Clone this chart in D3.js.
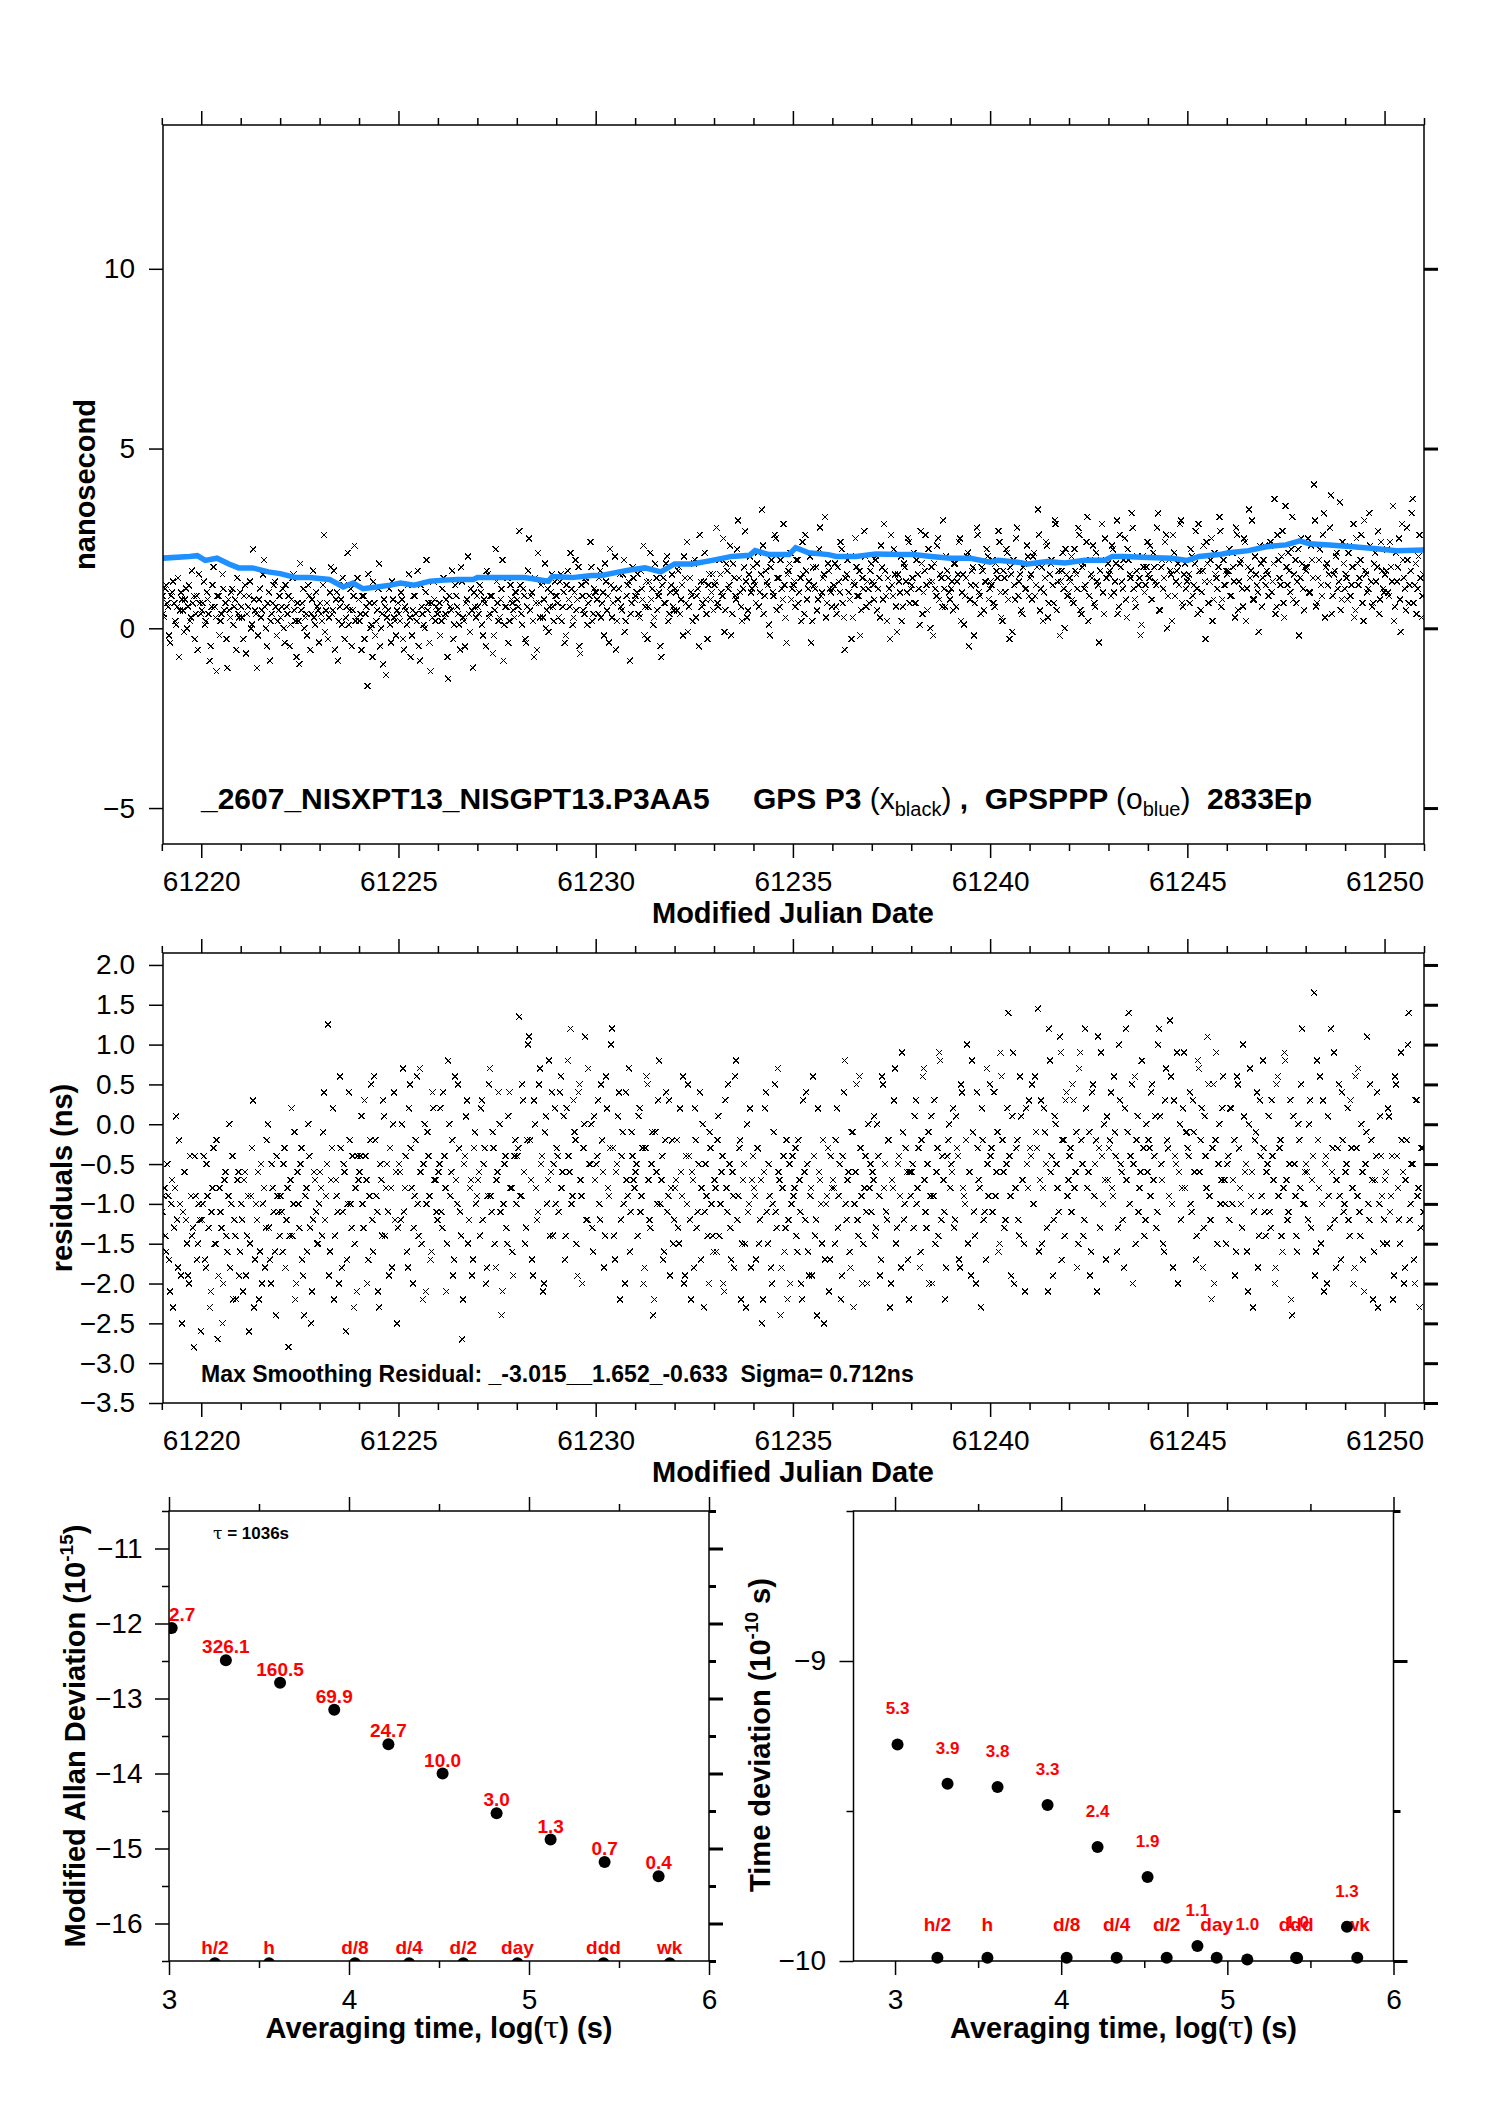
<!DOCTYPE html>
<meta charset="utf-8">
<style>
body { margin: 0; background: #fff; }
svg { font-family: "Liberation Sans", Arial, Helvetica, sans-serif; }
.ax text { font-size: 28px; font-family: "Liberation Sans", Arial, sans-serif; fill: #000; }
.ax line { stroke: #000; stroke-width: 1.5px; }
.axr line { stroke: #000; stroke-width: 3px; }
.frame { fill: none; stroke: #000; stroke-width: 1.5px; }
.title { font-size: 29px; font-weight: bold; }
.note { white-space: pre; }
.red { fill: #f00; font-weight: bold; }
.xm { fill: none; stroke: #000; stroke-width: 1.1px; shape-rendering: crispEdges; }
</style>
<svg width="1488" height="2105"></svg>
<script src="https://cdn.jsdelivr.net/npm/d3@7"></script>
<script>

// ---- time series: GPS P3 (black x), readings per MJD day (two interleaved passes) ----
var p3Start = 61219;
var p3ByDay = [
  [0.9,0.3,1.2,0.6,-0.4,1.0,0.7,0.1,1.4,0.5,0.8,-0.1,1.1,0.6,0.2,1.6,0.9,0.4,-0.6,0.7],
  [0.5,1.3,0.2,0.8,-0.9,0.6,1.7,0.3,0.9,-0.2,0.4,1.1,0.7,-1.1,0.5,1.0,0.1,0.8,1.4,0.3],
  [0.6,-0.3,1.2,0.4,0.9,0.0,2.2,0.5,-1.1,0.8,0.3,1.5,0.6,-0.5,1.0,0.2,0.7,1.3,-0.2,0.5],
  [0.3,1.1,-0.4,0.6,0.9,0.1,1.4,0.5,-0.8,0.2,1.8,0.7,0.0,0.4,1.2,-0.6,0.8,0.3,1.0,0.5],
  [0.7,0.2,2.6,0.5,-0.3,1.0,0.4,1.6,0.8,-0.9,0.6,0.1,1.2,0.3,2.1,0.5,-0.5,0.9,0.2,1.4],
  [0.2,-0.6,0.9,0.4,-1.6,0.7,0.1,1.3,-0.2,0.5,1.8,0.0,-1.0,0.6,0.3,1.1,-0.4,0.8,0.2,0.5],
  [0.4,1.0,-0.3,0.6,0.1,1.5,-0.8,0.5,0.9,0.2,-0.5,1.2,0.4,0.0,1.9,0.7,-1.2,0.3,0.8,0.6],
  [0.5,-0.2,1.1,0.3,0.8,-1.4,0.6,1.6,0.1,0.9,0.4,-0.6,1.3,0.2,0.7,2.0,-0.1,0.5,1.0,0.3],
  [0.6,1.2,0.1,0.8,-0.5,1.5,0.4,0.9,-0.2,2.2,0.7,0.3,1.1,-0.9,0.6,1.4,0.2,0.8,0.5,1.0],
  [0.8,2.7,0.4,1.1,-0.3,0.6,2.5,0.9,0.2,1.4,-0.6,0.7,1.2,0.3,1.8,0.5,-0.1,1.0,0.6,1.3],
  [0.9,0.3,1.5,0.6,-0.4,1.2,0.8,2.1,0.1,1.0,0.5,1.7,-0.7,0.9,0.4,1.3,0.7,2.4,0.2,1.1],
  [1.0,0.4,1.6,0.7,-0.2,1.3,0.9,2.2,0.3,1.1,-0.6,0.8,1.5,0.5,1.9,0.2,1.2,-0.9,0.7,1.4],
  [0.9,1.5,0.3,1.1,2.3,0.6,-0.3,1.3,0.8,0.1,1.8,0.5,1.0,-0.8,1.4,0.7,2.0,0.4,1.2,0.6],
  [1.1,0.5,1.7,0.8,-0.2,1.4,2.4,0.6,1.0,0.2,1.9,0.9,-0.5,1.3,0.7,2.1,0.4,1.2,0.8,1.5],
  [1.2,2.8,0.6,1.5,0.9,-0.1,1.8,1.1,2.3,0.4,1.4,0.8,3.0,1.0,0.2,1.7,1.3,0.5,2.0,1.1],
  [1.3,0.7,2.1,1.0,3.3,0.4,1.6,1.2,-0.2,1.9,0.9,2.5,1.4,0.6,1.1,2.9,0.3,1.5,1.8,0.8],
  [1.2,0.6,1.9,1.0,0.2,1.5,2.6,0.8,1.3,-0.4,1.7,1.1,0.5,2.2,0.9,1.4,3.1,0.7,1.6,1.0],
  [1.1,1.8,0.4,1.3,2.4,0.7,-0.6,1.5,1.0,2.0,0.3,1.2,1.7,0.9,-0.2,1.4,2.7,0.6,1.1,1.6],
  [1.3,0.8,2.0,1.1,0.3,1.7,2.9,0.9,1.4,-0.3,1.2,2.2,0.6,1.5,1.0,0.2,1.8,1.3,2.5,0.7],
  [1.2,2.1,0.7,1.5,0.1,1.8,1.0,2.6,0.5,1.3,1.7,-0.2,1.1,2.3,0.8,1.4,3.0,0.6,1.6,1.0],
  [1.1,0.5,1.8,1.3,2.4,0.2,1.5,0.9,2.0,-0.5,1.2,1.7,0.7,2.8,1.0,0.4,1.6,1.3,2.2,0.8],
  [1.3,1.9,0.6,1.6,2.7,1.0,0.2,1.4,2.2,0.8,1.7,-0.1,1.2,2.5,0.9,1.5,0.4,1.8,1.1,2.0],
  [1.4,0.8,2.1,1.2,3.3,0.5,1.7,1.0,2.4,0.3,1.5,1.9,0.7,2.9,1.3,-0.2,1.6,1.1,2.2,0.9],
  [1.4,2.0,0.7,1.6,1.1,2.6,0.4,1.8,1.2,3.1,0.9,1.5,2.3,0.6,1.3,-0.4,1.9,1.0,2.5,1.4],
  [1.5,0.9,2.2,1.3,3.0,0.6,1.7,1.1,2.5,0.3,1.9,1.4,2.8,0.8,1.6,1.2,-0.2,2.0,1.0,1.7],
  [1.5,2.3,0.8,1.7,1.2,3.2,0.5,1.9,1.4,2.6,0.9,1.6,0.2,2.1,1.3,1.8,2.9,0.7,1.5,1.1],
  [1.4,0.7,2.0,1.2,2.7,0.4,1.6,1.0,2.3,-0.3,1.8,1.3,2.5,0.8,1.5,1.1,3.1,0.6,1.9,1.2],
  [1.5,2.2,0.9,1.7,0.3,2.6,1.3,1.9,0.6,2.4,1.1,3.3,1.6,0.8,2.0,1.2,-0.1,1.8,1.4,2.3],
  [1.6,0.9,2.4,1.3,3.6,0.6,1.9,1.2,2.7,0.3,1.7,2.1,1.0,3.1,1.5,0.7,2.2,1.4,1.8,0.5],
  [1.6,2.5,1.0,1.9,4.0,0.6,1.4,2.2,0.9,3.2,1.7,1.2,2.8,0.4,1.5,2.0,1.1,3.5,0.8,1.8],
  [1.5,0.8,2.3,1.2,2.9,0.5,1.8,1.4,2.6,0.2,1.6,1.0,3.2,1.3,0.7,2.1,1.7,0.4,2.4,1.1],
  [1.5,2.2,0.9,1.7,3.4,0.6,1.3,2.5,-0.1,1.9,1.1,2.8,0.7,1.6,3.6,1.2,0.4,2.0,1.4,0.9]
];
var p3ByDay2 = [
  [0.4,1.1,0.7,-0.2,0.9,1.3,0.2,0.6,-0.8,1.0,0.5,0.8,0.0,1.2,0.3,0.7,-0.3,0.9,1.5,0.4],
  [0.7,0.1,1.0,0.4,-0.5,1.2,0.6,-1.2,0.9,0.2,1.5,0.5,-0.3,0.8,0.3,1.1,0.6,-0.6,0.4,1.0],
  [0.3,0.9,-0.7,0.6,1.3,0.1,0.8,0.4,-0.2,1.1,0.5,1.9,0.0,0.7,-0.9,0.4,1.2,0.6,0.2,0.9],
  [0.6,0.0,1.2,0.4,-0.5,0.8,1.5,0.2,0.7,-1.0,0.5,1.1,0.3,-0.2,0.9,0.4,1.6,0.1,0.6,-0.4],
  [0.4,1.2,-0.1,0.7,0.3,1.7,0.5,-0.6,1.0,0.2,0.8,1.4,-0.3,0.6,0.1,1.1,0.5,2.3,0.3,0.8],
  [0.4,0.9,-0.3,0.6,1.5,0.0,-0.8,0.7,0.2,1.1,-0.5,0.4,0.8,-1.3,0.5,0.1,1.3,0.3,-0.2,0.7],
  [0.2,0.8,-0.6,0.5,1.2,0.3,-0.2,0.9,0.4,1.6,-0.9,0.6,0.1,1.0,0.5,-0.4,0.7,1.3,0.2,0.4],
  [0.7,0.2,1.4,0.4,-0.8,0.9,0.5,-0.3,1.2,0.6,0.1,1.7,0.3,-0.5,0.8,0.4,1.1,-1.1,0.6,0.9],
  [0.4,1.0,-0.2,0.7,1.6,0.3,0.9,-0.7,0.5,1.3,0.2,0.8,1.9,0.1,0.6,-0.4,1.2,0.7,0.3,1.0],
  [0.6,1.2,0.1,0.9,-0.4,1.6,0.5,1.0,-0.8,0.7,2.1,0.3,1.3,0.8,0.0,1.1,0.6,1.5,0.2,0.9],
  [0.7,1.3,0.2,1.0,-0.2,1.6,0.6,1.1,0.3,1.9,0.8,-0.5,1.2,0.5,1.4,0.1,0.9,1.7,0.4,1.0],
  [0.8,1.4,0.3,1.0,1.8,0.5,-0.4,1.2,0.7,2.0,0.2,1.1,0.6,1.5,-0.1,0.9,1.3,0.4,1.7,0.8],
  [1.0,0.4,1.6,0.8,-0.2,1.3,0.6,2.1,1.1,0.3,1.4,0.9,-0.5,1.2,0.7,1.8,0.2,1.0,1.5,0.5],
  [1.0,1.6,0.4,1.2,2.0,0.7,-0.1,1.4,0.9,1.8,0.3,1.1,2.6,0.6,1.3,0.8,-0.3,1.5,1.0,0.5],
  [1.3,0.7,1.9,1.0,2.5,0.5,1.6,1.2,-0.2,1.8,0.9,2.2,1.4,0.6,1.1,2.7,0.3,1.5,1.0,1.7],
  [1.2,1.8,0.6,1.5,2.3,0.9,1.3,0.1,1.7,1.0,2.6,0.5,1.4,1.9,0.8,1.2,-0.4,1.6,2.1,1.1],
  [1.3,1.9,0.7,1.4,2.4,0.4,1.6,1.1,2.0,0.2,1.2,1.7,0.8,2.8,1.0,1.5,0.3,1.8,1.1,0.6],
  [1.2,0.6,1.7,1.0,2.2,0.3,1.4,1.9,0.8,-0.3,1.3,2.5,0.9,1.6,0.5,1.1,2.0,1.3,0.7,1.8],
  [1.2,1.9,0.5,1.4,2.3,0.8,1.6,0.2,1.1,2.6,0.9,1.5,-0.1,1.3,2.0,0.6,1.7,1.0,2.4,1.1],
  [1.4,0.7,1.9,1.1,2.7,0.4,1.6,1.2,2.2,0.0,1.3,1.8,0.9,2.5,1.5,0.6,1.1,2.0,1.4,0.8],
  [1.3,1.8,0.6,1.5,2.5,1.0,0.1,1.4,2.1,0.8,1.6,-0.2,1.2,2.6,0.9,1.7,0.5,1.3,2.0,1.1],
  [1.2,0.7,1.8,1.4,2.4,0.3,1.6,1.0,2.1,-0.3,1.5,1.9,0.8,2.8,1.3,0.5,1.7,1.1,2.3,0.9],
  [1.5,2.0,0.9,1.7,2.6,1.1,0.2,1.4,2.3,0.7,1.8,1.2,3.0,0.5,1.6,1.3,2.1,0.0,1.5,1.0],
  [1.3,0.8,2.2,1.5,2.8,0.5,1.7,1.1,2.4,0.2,1.9,1.4,0.7,2.1,1.2,1.6,2.9,0.4,1.4,1.8],
  [1.6,2.3,1.0,1.8,0.4,2.6,1.3,1.9,0.8,2.2,1.5,3.2,1.1,0.6,2.0,1.4,0.1,1.7,1.2,2.4],
  [1.4,0.8,2.1,1.3,2.8,0.5,1.7,1.1,2.4,0.0,1.9,1.5,2.6,0.9,1.6,1.2,3.0,0.6,1.8,1.3],
  [1.5,2.2,0.9,1.8,1.1,2.9,0.5,1.6,1.3,2.4,0.7,1.9,0.2,2.1,1.4,1.7,2.7,0.8,1.2,1.6],
  [1.6,0.9,2.1,1.3,2.8,0.5,1.8,1.1,2.5,0.2,1.7,1.4,3.0,0.8,1.5,1.0,2.3,0.6,1.9,1.2],
  [1.5,2.3,1.0,1.8,0.4,2.6,1.4,2.0,0.7,3.4,1.2,1.6,2.2,0.8,1.9,1.3,-0.2,2.5,1.1,1.7],
  [1.7,1.0,2.3,1.4,3.0,0.7,1.9,1.2,2.6,0.3,1.8,1.5,3.7,0.9,1.6,2.1,1.3,0.5,2.4,1.1],
  [1.4,2.1,0.9,1.7,0.3,2.5,1.2,1.9,0.7,3.0,1.5,1.1,2.3,0.6,1.8,1.3,2.7,0.8,1.6,1.0],
  [1.6,1.0,2.4,1.3,0.2,2.1,1.7,0.8,2.9,1.4,0.5,1.9,1.2,3.2,0.7,1.8,1.1,2.6,0.3,1.5]
];

// ---- smoothed GPSPPP (blue) ----
var pppMjd = [61219.0,61219.7,61219.9,61220.1,61220.4,61220.7,61220.95,61221.3,61221.7,61222.0,
  61222.4,61222.75,61223.25,61223.6,61223.85,61224.1,61224.45,61224.8,61225.05,61225.4,
  61225.8,61226.15,61226.5,61226.9,61227.0,61227.6,61228.2,61228.8,61228.9,61229.4,
  61229.9,61230.15,61230.6,61230.9,61231.25,61231.65,61232.0,61232.45,61232.95,61233.45,
  61233.9,61234.04,61234.4,61234.9,61235.07,61235.4,61235.9,61236.1,61236.6,61237.1,
  61237.7,61238.05,61238.5,61239.0,61239.5,61240.0,61240.2,61240.7,61240.95,61241.45,
  61241.9,61242.4,61242.9,61243.1,61243.4,61244.0,61244.6,61245.0,61245.3,61245.8,
  61246.05,61246.55,61247.0,61247.5,61247.85,61248.1,61248.6,61249.2,61249.8,61250.3,61251.0];
var pppNs = [1.95,2.0,2.02,1.89,1.95,1.79,1.68,1.68,1.57,1.52,
  1.41,1.41,1.36,1.15,1.26,1.1,1.15,1.2,1.26,1.2,
  1.31,1.34,1.36,1.36,1.41,1.41,1.41,1.31,1.44,1.41,
  1.47,1.47,1.57,1.63,1.68,1.57,1.79,1.79,1.89,2.0,
  2.03,2.16,2.05,2.05,2.24,2.1,2.05,2.0,2.0,2.07,
  2.05,2.05,2.0,1.95,1.95,1.84,1.89,1.84,1.79,1.86,
  1.82,1.89,1.89,2.0,2.0,1.97,1.95,1.89,2.0,2.05,
  2.1,2.16,2.27,2.32,2.43,2.35,2.32,2.27,2.21,2.16,2.18];

// ---- smoothing residuals (ns), per MJD day (two interleaved passes) ----
var residByDay = [
  [-1.1,-0.8,-1.6,-0.9,-2.1,-0.7,-1.3,0.1,-1.8,-1.0,-2.5,-0.6,-1.2,-1.9,-0.4,-1.4,-2.8,-0.9,-1.5,-1.2],
  [-1.2,-0.4,-1.8,-0.9,-2.3,-1.1,-0.3,-1.5,-2.7,-0.8,-1.3,-2.0,-0.6,-1.6,0.0,-1.0,-2.2,-1.4,-0.7,-1.9],
  [-1.0,-2.1,-0.6,-1.4,-2.6,-0.9,0.3,-1.7,-1.2,-2.2,-0.5,-1.0,-1.8,-0.2,-1.3,-2.0,-0.8,-1.6,-0.4,-1.1],
  [-0.9,-1.6,-0.3,-1.2,-2.8,-0.7,-1.4,-0.1,-2.0,-1.0,-0.5,-1.7,-2.4,-0.8,0.0,-1.3,-2.1,-0.6,-1.1,-1.5],
  [-0.6,-1.4,0.4,-0.9,1.25,-1.6,-0.3,-2.2,-0.7,-1.1,0.6,-1.8,-0.5,-2.6,-1.0,-0.2,-1.3,-2.3,-0.8,-0.4],
  [-0.6,0.1,-1.3,-0.4,-2.0,-0.9,0.5,-1.6,-0.2,-1.1,-2.3,-0.7,0.3,-1.4,-0.5,-1.9,-0.8,0.0,-1.2,-2.5],
  [-0.5,-1.2,0.7,-0.8,-1.6,0.2,-0.3,-2.0,-0.9,0.6,-1.4,-0.6,-2.2,0.0,-1.0,-0.4,-1.7,0.4,-0.7,-1.1],
  [-0.6,0.2,-1.3,-0.4,-2.1,0.8,-0.9,-0.2,-1.7,-0.7,0.5,-1.1,-2.7,-0.5,0.1,-1.5,-0.8,-1.9,-0.3,-1.0],
  [-0.7,-1.4,0.3,-0.5,-2.0,-0.9,0.7,-1.1,-0.3,-1.8,-0.6,0.0,-2.4,-1.0,-0.4,-1.5,0.4,-0.8,-1.9,-0.2],
  [-0.4,1.35,-0.9,0.3,-1.5,-0.2,1.1,-0.7,-1.9,0.0,-1.2,0.5,-0.5,-2.1,-0.1,-1.0,0.8,-0.6,-1.4,0.2],
  [-0.3,-1.1,0.6,-0.6,-1.7,0.2,-0.4,1.2,-0.9,-0.1,-1.5,0.4,-0.7,-2.0,0.0,-1.2,0.7,-0.5,-1.3,0.1],
  [-0.5,0.3,-1.2,-0.2,-1.8,0.6,-0.8,-0.3,1.2,-1.4,-0.6,0.1,-2.2,-0.4,-1.0,0.4,-0.9,-1.6,-0.1,-0.7],
  [-0.6,-1.4,0.2,-0.9,-2.0,-0.3,0.5,-1.2,-0.5,-2.4,-0.1,-1.0,0.8,-0.7,-1.7,-0.2,-1.1,0.3,-0.8,-1.5],
  [-0.8,-0.2,-1.5,-0.6,0.6,-1.9,-1.0,-0.4,-2.2,-0.7,0.2,-1.3,-0.5,-1.7,0.0,-1.1,-0.9,-2.0,-0.3,-1.4],
  [-0.7,-1.6,0.1,-1.0,-0.4,-2.1,-0.8,0.5,-1.3,-0.6,-1.8,0.8,-0.9,-0.2,-1.5,-0.5,-2.3,-1.1,0.2,-0.7],
  [-0.8,-1.7,-0.3,-1.2,-2.5,-0.6,0.4,-1.5,-0.9,-2.0,-0.1,-1.1,0.7,-0.7,-1.8,-0.4,-1.3,-2.2,-0.5,-1.0],
  [-0.9,-0.3,-1.6,-0.7,-2.0,0.3,-1.2,-0.5,-1.9,-0.8,0.6,-1.4,-2.4,-0.6,-1.0,-0.2,-1.7,-0.9,-2.1,-0.4],
  [-0.7,-1.5,0.2,-0.9,-2.2,-0.4,0.8,-1.2,-0.6,-1.8,-0.1,-1.0,0.5,-1.4,-0.3,-2.0,-0.8,-1.1,0.0,-0.5],
  [-0.6,0.1,-1.3,-0.4,-1.9,0.6,-0.8,-1.1,-0.2,-2.3,-0.7,0.3,-1.5,-0.5,-0.9,0.9,-1.2,-0.3,-1.7,-0.6],
  [-0.6,-1.3,0.3,-0.8,-1.8,-0.2,0.7,-1.1,-0.5,-2.0,0.1,-0.9,-1.5,-0.3,0.9,-1.2,-0.7,-2.2,-0.4,0.0],
  [-0.5,0.2,-1.2,-0.3,-1.7,0.5,-0.8,-1.0,1.0,-0.6,-1.9,-0.1,-1.4,0.4,-0.7,-2.3,-0.2,-1.1,0.7,-0.9],
  [-0.4,-1.1,0.4,-0.6,-1.6,0.9,-0.2,-1.3,-0.5,1.4,-0.9,0.1,-2.0,-0.3,-1.2,0.6,-0.7,-1.5,0.2,-0.8],
  [-0.3,0.5,-1.0,-0.1,1.45,-0.7,-1.5,0.2,-0.5,-2.1,0.8,-0.4,-1.2,0.0,-0.8,1.1,-1.7,-0.2,0.3,-0.9],
  [-0.4,-1.1,0.3,-0.6,-1.8,0.7,-0.2,-1.4,1.2,-0.8,-0.1,-1.6,0.5,-0.5,-2.1,-0.3,0.9,-1.0,-0.7,0.1],
  [-0.3,0.4,-0.9,-0.1,-1.6,1.0,-0.5,-1.2,0.2,-0.7,1.4,-0.4,-2.0,0.6,-0.2,-1.1,-0.6,0.8,-1.4,0.0],
  [-0.2,-0.9,0.5,-0.4,-1.3,1.0,0.1,-0.7,-1.6,0.7,-0.3,1.3,-1.0,0.3,-0.5,-2.0,0.0,-0.8,0.9,-0.1],
  [-0.3,0.4,-1.1,-0.1,-1.7,0.8,-0.6,0.2,-1.3,-0.4,1.1,-0.9,-2.2,0.5,-0.2,-1.5,0.0,-0.7,0.6,-1.0],
  [-0.5,-1.2,0.2,-0.7,-1.9,0.6,-0.3,-1.0,1.0,-0.6,-1.6,0.0,-0.9,-2.3,-0.2,0.4,-1.4,-0.4,0.8,-1.1],
  [-0.6,0.1,-1.3,-0.4,-2.0,0.5,-0.9,-0.2,-1.6,0.9,-0.7,-1.1,0.3,-2.4,-0.5,-1.4,0.0,-0.8,1.2,-1.0],
  [-0.5,-1.2,0.3,-0.7,1.65,-1.6,-0.2,0.6,-1.0,-2.1,-0.4,0.1,-1.3,-0.6,0.9,-1.8,-0.3,-0.9,0.4,-1.1],
  [-0.6,0.2,-1.4,-0.3,-2.0,0.6,-0.9,-1.1,0.0,-1.7,-0.5,1.1,-1.2,-0.2,-2.2,-0.7,0.4,-1.0,-0.4,-1.5],
  [-0.7,-1.5,0.1,-0.9,-2.2,0.6,-0.4,-1.2,0.9,-0.6,-1.8,-0.2,1.4,-1.0,-0.5,-2.0,0.3,-0.8,-1.3,-0.3]
];
var residByDay2 = [
  [-0.9,-1.4,-0.5,-1.7,-1.0,-2.3,-0.8,-1.2,-0.2,-1.9,-1.1,-0.6,-1.5,-2.0,-0.9,-1.3,-0.4,-1.7,-1.0,-2.6],
  [-1.0,-1.7,-0.5,-1.3,-2.1,-0.8,-1.5,-0.2,-1.9,-1.1,-2.5,-0.7,-1.4,-0.9,-1.8,-0.4,-1.2,-2.2,-0.6,-1.6],
  [-1.2,-0.7,-1.9,-0.9,-1.5,-0.3,-2.3,-1.0,-0.6,-1.6,-2.0,-0.8,-1.3,0.0,-1.7,-0.5,-1.1,-2.4,-0.9,-1.4],
  [-1.1,-0.5,-1.8,-0.8,-1.4,0.2,-1.0,-2.2,-0.6,-1.3,-0.3,-1.9,-0.9,-1.6,-0.4,-2.5,-1.2,-0.7,-1.5,-1.0],
  [-0.8,-0.1,-1.2,-0.5,-1.9,-0.7,0.2,-1.4,-0.9,-2.0,-0.3,-1.1,-0.6,-1.7,0.4,-1.0,-0.4,-1.5,-2.1,-0.7],
  [-0.4,-1.0,0.3,-0.7,-1.7,-0.2,-1.2,0.6,-0.9,-2.1,-0.5,-1.4,0.1,-0.8,-1.1,-0.3,-1.8,0.4,-0.6,-1.3],
  [-0.6,0.0,-1.1,-0.4,-1.8,0.5,-0.8,-1.3,-0.2,-1.0,0.7,-1.5,-0.5,-2.1,-0.1,-0.9,-1.6,0.2,-0.7,-1.2],
  [-0.5,-1.1,0.4,-0.8,-1.5,0.0,-0.6,-1.9,0.6,-1.0,-0.3,-1.4,-2.2,-0.4,0.3,-1.2,-0.7,-1.7,-0.1,-0.9],
  [-0.6,0.2,-1.2,-0.3,-1.8,0.5,-0.9,-0.1,-1.5,-0.7,0.4,-1.1,-2.1,-0.5,-1.3,0.1,-0.8,-1.6,-0.4,-1.0],
  [-0.3,-0.9,0.5,-0.6,-1.3,1.0,-0.2,-1.7,0.3,-0.8,-1.1,0.7,-0.4,-2.0,0.1,-0.7,-1.4,0.4,-0.5,-1.0],
  [-0.4,0.4,-0.8,0.1,-1.4,0.8,-0.6,-1.0,0.3,-0.2,-1.9,0.5,-0.9,-0.3,1.1,-1.2,-0.5,0.0,-1.6,-0.7],
  [-0.4,-1.0,0.5,-0.6,-1.4,0.2,-0.9,1.0,-0.3,-1.7,-0.5,0.4,-1.2,-0.1,-2.0,-0.7,0.7,-1.1,-0.4,-0.8],
  [-0.5,0.1,-1.1,-0.3,-1.8,0.6,-0.7,-1.3,-0.1,-2.2,-0.6,0.3,-1.0,-0.4,-1.6,0.4,-0.9,-1.9,-0.2,-1.2],
  [-0.7,-1.3,0.2,-0.9,-2.0,-0.4,0.5,-1.2,-0.6,-1.8,-0.2,-1.1,0.4,-0.8,-2.3,-0.5,-1.4,-0.1,-1.0,-1.6],
  [-0.8,-0.2,-1.4,-0.6,-2.0,0.3,-1.1,-0.5,-1.7,-0.9,0.6,-1.2,-0.3,-2.2,-0.7,-1.5,0.0,-1.0,-1.8,-0.4],
  [-0.9,-0.3,-1.5,-0.7,-2.2,0.2,-1.1,-0.5,-1.8,-1.0,0.5,-1.3,-0.6,-2.4,-0.8,-1.6,-0.2,-1.2,-2.0,-0.4],
  [-0.8,-1.4,-0.2,-1.1,-2.2,-0.6,0.4,-1.6,-0.9,-1.9,-0.4,-1.2,0.2,-0.7,-1.5,-2.5,-1.0,-0.3,-1.7,-0.8],
  [-0.8,-0.2,-1.3,-0.5,-1.9,0.4,-1.0,-0.7,-1.6,-0.1,-2.3,-0.6,-1.2,0.6,-0.9,-1.5,-0.4,-2.0,-0.8,-1.1],
  [-0.7,-1.4,0.0,-0.9,-1.7,0.5,-0.5,-1.2,-0.2,-2.0,-0.8,0.7,-1.3,-0.4,-1.8,-0.1,-1.0,-0.6,-2.2,-0.9],
  [-0.5,0.1,-1.0,-0.3,-1.6,0.6,-0.7,-1.3,-0.1,-0.9,-2.0,0.3,-0.6,-1.4,0.8,-0.4,-1.1,-1.8,-0.2,-0.8],
  [-0.6,-1.3,0.1,-0.4,-1.8,0.4,-0.9,-0.2,-1.5,-0.6,0.8,-1.1,-2.0,-0.3,-0.8,0.2,-1.2,-1.7,-0.5,0.5],
  [-0.3,0.4,-0.9,-0.1,-1.5,0.6,-0.6,-1.2,0.2,-0.4,-1.9,0.9,-0.8,-0.2,-1.4,0.1,-0.7,-2.1,-0.5,0.3],
  [-0.4,-1.0,0.6,-0.3,-1.6,0.3,-0.8,-0.1,-1.3,1.2,-0.6,-1.9,0.1,-0.5,-1.1,0.9,-0.2,-1.4,0.4,-0.7],
  [-0.3,0.5,-0.8,-0.1,-1.5,0.9,-0.5,-1.2,0.2,-0.6,-1.9,0.4,-0.9,-0.2,1.1,-1.3,-0.4,0.0,-1.7,-0.7],
  [-0.2,-0.8,0.6,-0.4,-1.3,0.3,-0.6,-1.8,1.2,-0.1,-1.0,0.5,-0.5,-1.5,0.1,-0.8,0.8,-0.3,-1.2,-0.6],
  [-0.3,0.4,-0.7,0.1,-1.1,1.2,-0.5,-1.5,0.3,-0.2,-0.9,0.6,-1.8,-0.4,0.9,-0.6,-1.2,0.2,-0.8,-0.1],
  [-0.4,-1.0,0.3,-0.6,-1.4,0.7,-0.2,-1.8,0.1,-0.8,0.5,-1.2,-0.3,-2.0,0.9,-0.5,-1.0,0.2,-0.7,-1.5],
  [-0.4,0.2,-1.0,-0.2,-1.6,0.5,-0.8,-1.3,0.1,-0.5,-2.1,0.7,-0.6,-1.1,-0.1,-1.8,0.3,-0.9,-0.3,-1.4],
  [-0.5,-1.1,0.3,-0.7,-1.8,0.6,-0.3,-1.4,-0.8,0.8,-1.2,-0.5,-2.2,0.1,-0.9,-1.6,-0.2,0.5,-1.0,-0.6],
  [-0.6,0.0,-1.3,-0.4,-1.9,0.8,-0.8,-1.5,0.3,-0.5,-2.0,-0.9,1.2,-0.3,-1.2,-0.7,0.5,-1.7,-0.2,-1.0],
  [-0.5,-1.2,0.3,-0.8,-1.8,-0.3,0.7,-1.4,-0.6,-2.1,-0.1,-1.0,0.5,-0.7,-1.6,-0.4,-2.3,0.1,-0.9,-1.2],
  [-0.6,0.2,-1.1,-0.4,-1.9,0.5,-0.8,-1.5,-0.2,-2.0,-0.7,1.0,-1.2,-0.5,-1.7,0.3,-0.9,-2.3,-0.3,-1.1]
];

// ---- stability ----
var adevLogTau = [3.015,3.316,3.617,3.918,4.219,4.52,4.82,5.12,5.42,5.72];
var madevLog = [-12.06,-12.49,-12.79,-13.15,-13.61,-14.00,-14.53,-14.88,-15.18,-15.37];
var madevLabels = ["2.7","326.1","160.5","69.9","24.7","10.0","3.0","1.3","0.7","0.4"];
var tdevLog = [-9.278,-9.409,-9.42,-9.48,-9.62,-9.72,-9.95,-9.995,-9.99,-9.886];
var tdevLabels = ["5.3","3.9","3.8","3.3","2.4","1.9","1.1","1.0","1.0","1.3"];
var markLogTau = [3.255,3.556,4.033,4.334,4.635,4.936,5.414,5.782];
var markLabels = ["h/2","h","d/8","d/4","d/2","day","ddd","wk"];

// ---- tick labels ----
var mjdTicks = [61220,61225,61230,61235,61240,61245,61250];
var nsTicks = [-5,0,5,10];
var residTicks = [-3.5,-3.0,-2.5,-2.0,-1.5,-1.0,-0.5,0.0,0.5,1.0,1.5,2.0];
var logTauTicks = [3,4,5,6];
var madevTicks = [-16,-15,-14,-13,-12,-11];
var tdevTicks = [-10,-9];

var svg = d3.select("svg");

var P1 = {l: 163, r: 1424, t: 125, b: 844},
    P2 = {l: 163, r: 1424, t: 953, b: 1403},
    P3 = {l: 169, r: 709, t: 1511, b: 1961},
    P4 = {l: 853.5, r: 1393.5, t: 1511, b: 1961};

function clip(id, box) {
  svg.append("clipPath").attr("id", id).append("rect")
    .attr("x", box.l).attr("y", box.t).attr("width", box.r - box.l).attr("height", box.b - box.t);
}

function axis(gen, tx, ty, cls) {
  var g = svg.append("g").attr("class", cls || "ax")
    .attr("transform", "translate(" + tx + "," + ty + ")")
    .call(gen);
  g.select(".domain").remove();
  return g;
}

// x ticks on bottom (labelled) and top, y ticks on left (labelled) and right
function frame(box, x, y, xMajor, xMinor, xFmt, xPad, yMajor, yMinor, yFmt, yPad) {
  axis(d3.axisBottom(x).tickValues(xMajor).tickSizeInner(14).tickSizeOuter(0).tickPadding(xPad).tickFormat(xFmt), 0, box.b);
  axis(d3.axisBottom(x).tickValues(xMinor).tickSizeInner(7).tickSizeOuter(0).tickFormat(""), 0, box.b);
  axis(d3.axisTop(x).tickValues(xMajor).tickSizeInner(14).tickSizeOuter(0).tickFormat(""), 0, box.t);
  axis(d3.axisTop(x).tickValues(xMinor).tickSizeInner(7).tickSizeOuter(0).tickFormat(""), 0, box.t);
  axis(d3.axisLeft(y).tickValues(yMajor).tickSizeInner(14).tickSizeOuter(0).tickPadding(yPad).tickFormat(yFmt), box.l, 0);
  axis(d3.axisRight(y).tickValues(yMajor).tickSizeInner(14).tickSizeOuter(0).tickFormat(""), box.r, 0, "axr");
  if (yMinor.length) {
    axis(d3.axisLeft(y).tickValues(yMinor).tickSizeInner(7).tickSizeOuter(0).tickFormat(""), box.l, 0);
    axis(d3.axisRight(y).tickValues(yMinor).tickSizeInner(7).tickSizeOuter(0).tickFormat(""), box.r, 0, "axr");
  }
  svg.append("rect").attr("class", "frame")
    .attr("x", box.l).attr("y", box.t).attr("width", box.r - box.l).attr("height", box.b - box.t);
}

function yTitle(x, y, parts) {
  var t = svg.append("text").attr("class", "title").attr("text-anchor", "middle")
    .attr("transform", "translate(" + x + "," + y + ") rotate(-90)");
  parts.forEach(function(p) {
    t.append("tspan").attr("dy", p.dy || 0).style("font-size", p.size || null).text(p.s);
  });
}

function xTitle(x, y, parts) {
  var t = svg.append("text").attr("class", "title").attr("text-anchor", "middle")
    .attr("x", x).attr("y", y);
  parts.forEach(function(p) {
    t.append("tspan").style("font-family", p.fam || null).style("font-weight", p.w || null).text(p.s);
  });
}

// spread each day's readings over that day, alternating the two passes
function flatten(start, rowsA, rowsB) {
  var out = [];
  rowsA.forEach(function(row, d) {
    var vals = d3.merge(d3.zip(row, rowsB[d]));
    vals.forEach(function(v, i) { out.push({t: start + d + (i + 0.5) / vals.length, v: v}); });
  });
  return out;
}

var xMarker = "M-3,-3L3,3M-3,3L3,-3";
var mjdMinor = d3.range(61219, 61252).filter(function(d) { return d % 5 !== 0; });

// ================= panel 1: time series =================
var x1 = d3.scaleLinear().domain([61219.03, 61251.0]).range([P1.l, P1.r]),
    y1 = d3.scaleLinear().domain([-6, 14]).range([P1.b, P1.t]);
clip("c1", P1);

var g1 = svg.append("g").attr("clip-path", "url(#c1)");
g1.selectAll("path.xm").data(flatten(p3Start, p3ByDay, p3ByDay2)).enter().append("path")
  .attr("class", "xm")
  .attr("d", xMarker)
  .attr("transform", function(d) { return "translate(" + x1(d.t) + "," + y1(d.v) + ")"; });

g1.append("path")
  .datum(d3.zip(pppMjd, pppNs))
  .attr("d", d3.line().x(function(d) { return x1(d[0]); }).y(function(d) { return y1(d[1]); }))
  .attr("fill", "none").attr("stroke", "#1e90ff").attr("stroke-width", 5.5);

frame(P1, x1, y1, mjdTicks, mjdMinor, d3.format("d"), 13, nsTicks, [], d3.format("d"), 14);
yTitle(95, 484.5, [{s: "nanosecond"}]);
xTitle(793, 923, [{s: "Modified Julian Date"}]);

svg.append("text").attr("class", "note").attr("x", 201).attr("y", 809)
  .style("font-size", "30px").style("font-weight", "bold")
  .text("_2607_NISXPT13_NISGPT13.P3AA5");

var leg = svg.append("text").attr("class", "note").attr("x", 753).attr("y", 809)
  .style("font-size", "30px").style("font-weight", "bold");
[
  {s: "GPS P3 "}, {s: "(x", w: "normal"}, {s: "black", w: "normal", sub: 1}, {s: ")", w: "normal", up: 1},
  {s: " ,  GPSPPP "}, {s: "(o", w: "normal"}, {s: "blue", w: "normal", sub: 1}, {s: ")", w: "normal", up: 1},
  {s: "  2833Ep"}
].forEach(function(p) {
  leg.append("tspan")
    .attr("dy", p.sub ? 7 : (p.up ? -7 : 0))
    .style("font-weight", p.w || null)
    .style("font-size", p.sub ? "20px" : null)
    .text(p.s);
});

// ================= panel 2: residuals =================
var x2 = d3.scaleLinear().domain([61219.03, 61251.0]).range([P2.l, P2.r]),
    y2 = d3.scaleLinear().domain([-3.5, 2.15]).range([P2.b, P2.t]);
clip("c2", P2);

svg.append("g").attr("clip-path", "url(#c2)")
  .selectAll("path.xm").data(flatten(p3Start, residByDay, residByDay2)).enter().append("path")
  .attr("class", "xm")
  .attr("d", xMarker)
  .attr("transform", function(d) { return "translate(" + x2(d.t) + "," + y2(d.v) + ")"; });

frame(P2, x2, y2, mjdTicks, mjdMinor, d3.format("d"), 13, residTicks, [], d3.format(".1f"), 14);
yTitle(72, 1178, [{s: "residuals (ns)"}]);
xTitle(793, 1482, [{s: "Modified Julian Date"}]);

svg.append("text").attr("class", "note").attr("x", 201).attr("y", 1382)
  .style("font-size", "23px").style("font-weight", "bold")
  .text("Max Smoothing Residual: _-3.015__1.652_-0.633  Sigma= 0.712ns");

// ================= panel 3: modified Allan deviation =================
var x3 = d3.scaleLinear().domain([3, 6]).range([P3.l, P3.r]),
    y3 = d3.scaleLinear().domain([-16.5, -10.5]).range([P3.b, P3.t]);
clip("c3", P3);

var g3 = svg.append("g").attr("clip-path", "url(#c3)");
g3.selectAll("circle.m").data(markLogTau).enter().append("circle")
  .attr("cx", function(d) { return x3(d); }).attr("cy", y3(-16.53)).attr("r", 6);
g3.selectAll("circle.p").data(adevLogTau).enter().append("circle")
  .attr("cx", function(d) { return x3(d); })
  .attr("cy", function(d, i) { return y3(madevLog[i]); }).attr("r", 6);

svg.selectAll("text.ml3").data(markLabels).enter().append("text")
  .attr("class", "red").attr("text-anchor", "middle").style("font-size", "19px")
  .attr("x", function(d, i) { return x3(markLogTau[i]); })
  .attr("y", y3(-16.5) - 7)
  .text(function(d) { return d; });

svg.selectAll("text.pl3").data(madevLabels).enter().append("text")
  .attr("class", "red").attr("text-anchor", "middle").style("font-size", "19px")
  .attr("x", function(d, i) { return x3(adevLogTau[i]); })
  .attr("y", function(d, i) { return y3(madevLog[i]) - 7; })
  .text(function(d) { return d; })
  .each(function() {
    var el = d3.select(this), w = this.getComputedTextLength(), cx = +el.attr("x");
    if (cx - w / 2 < P3.l) el.attr("x", P3.l + w / 2);
  });

frame(P3, x3, y3, logTauTicks, [3.5, 4.5, 5.5], d3.format("d"), 14,
      madevTicks, [-16.5, -15.5, -14.5, -13.5, -12.5, -11.5, -10.5], d3.format("d"), 12.5);

svg.append("text").attr("x", 213).attr("y", 1539).style("font-size", "17px").style("font-weight", "bold")
  .call(function(t) {
    t.append("tspan").style("font-weight", "normal").style("font-family", "DejaVu Serif, serif").text("\u03c4");
    t.append("tspan").text(" = 1036s");
  });

yTitle(85, 1736, [{s: "Modified Allan Deviation (10"}, {s: "-15", size: "19px", dy: -12}, {s: ")", dy: 12}]);
xTitle(439, 2038, [{s: "Averaging time, log("}, {s: "\u03c4", fam: "DejaVu Serif, serif", w: "normal"}, {s: ") (s)"}]);

// ================= panel 4: time deviation =================
var x4 = d3.scaleLinear().domain([2.75, 6]).range([P4.l, P4.r]),
    y4 = d3.scaleLinear().domain([-10, -8.5]).range([P4.b, P4.t]);

svg.selectAll("text.ml4").data(markLabels).enter().append("text")
  .attr("class", "red").attr("text-anchor", "middle").style("font-size", "19px")
  .attr("x", function(d, i) { return x4(markLogTau[i]); })
  .attr("y", y4(-10) - 30)
  .text(function(d) { return d; });

svg.selectAll("text.pl4").data(tdevLabels).enter().append("text")
  .attr("class", "red").attr("text-anchor", "middle").style("font-size", "17px")
  .attr("x", function(d, i) { return x4(adevLogTau[i]); })
  .attr("y", function(d, i) { return y4(tdevLog[i]) - 30; })
  .text(function(d) { return d; });

svg.selectAll("circle.m4").data(markLogTau).enter().append("circle")
  .attr("cx", function(d) { return x4(d); }).attr("cy", y4(-9.989)).attr("r", 6);
svg.selectAll("circle.p4").data(adevLogTau).enter().append("circle")
  .attr("cx", function(d) { return x4(d); })
  .attr("cy", function(d, i) { return y4(tdevLog[i]); }).attr("r", 6);

frame(P4, x4, y4, logTauTicks, [3.5, 4.5, 5.5], d3.format("d"), 14,
      tdevTicks, [-9.5, -8.5], d3.format("d"), 13.5);

yTitle(770, 1735, [{s: "Time deviation (10"}, {s: "-10", size: "19px", dy: -12}, {s: " s)", dy: 12}]);
xTitle(1123.5, 2038, [{s: "Averaging time, log("}, {s: "\u03c4", fam: "DejaVu Serif, serif", w: "normal"}, {s: ") (s)"}]);

</script>
